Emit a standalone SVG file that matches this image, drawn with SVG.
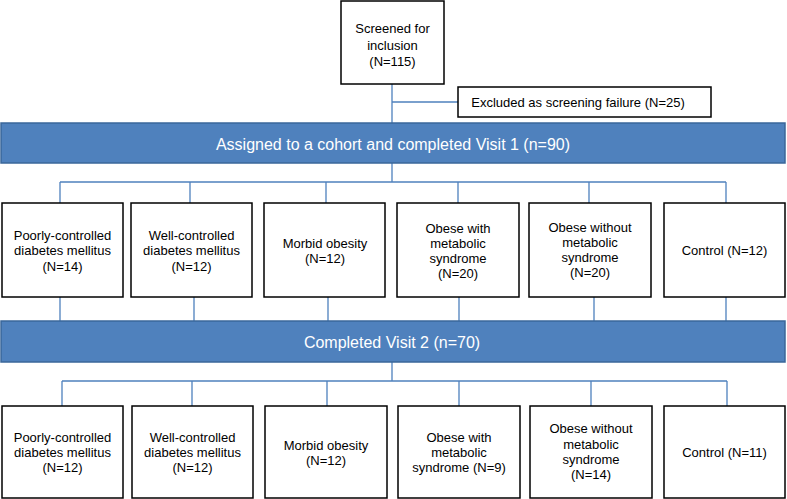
<svg xmlns="http://www.w3.org/2000/svg" width="787" height="499" viewBox="0 0 787 499">
<style>
.box{fill:#fff;stroke:#000;stroke-width:1.5}
.bar{fill:#4F81BD;stroke:#3A679A;stroke-width:1.5}
.t{font-family:"Liberation Sans",Arial,sans-serif;font-size:13px;fill:#000;text-anchor:middle}
.bt{font-family:"Liberation Sans",Arial,sans-serif;font-size:16px;fill:#fff;text-anchor:middle}
.c{fill:none;stroke:#4F81BD;stroke-width:1.3}
</style>
<rect x="0" y="0" width="787" height="499" fill="#fff"/>
<g id="connectors">
<path class="c" d="M392 84V123 M392 102H458"/>
<path class="c" d="M392 163V182 M60 182H726 M60 182V203 M190 182V203 M326 182V203 M458 182V203 M589 182V203 M726 182V203"/>
<path class="c" d="M60 297V321 M194 297V321 M328 297V321 M459 297V321 M594 297V321 M726 297V321"/>
<path class="c" d="M392 362V381 M62 381H727 M62 381V406 M192 381V406 M327 381V406 M459 381V406 M591 381V406 M727 381V406"/>
</g>
<g id="screened">
<rect class="box" x="341" y="1" width="103" height="83"/>
<text class="t" x="392.5" y="33">Screened for</text>
<text class="t" x="392.5" y="49.5">inclusion</text>
<text class="t" x="392.5" y="66">(N=115)</text>
</g>
<g id="excluded">
<rect class="box" x="458" y="87" width="253" height="30"/>
<text class="t" x="578" y="106.5">Excluded as screening failure (N=25)</text>
</g>
<g id="visit1">
<rect class="bar" x="1" y="123" width="784" height="40"/>
<text class="bt" x="393" y="149.5">Assigned to a cohort and completed Visit 1 (n=90)</text>
</g>
<g id="v1-poor">
<rect class="box" x="2" y="203" width="121" height="94"/>
<text class="t" x="62.5" y="239.5">Poorly-controlled</text>
<text class="t" x="62.5" y="255">diabetes mellitus</text>
<text class="t" x="62.5" y="270.5">(N=14)</text>
</g>
<g id="v1-well">
<rect class="box" x="131" y="203" width="121" height="94"/>
<text class="t" x="191.5" y="239.5">Well-controlled</text>
<text class="t" x="191.5" y="255">diabetes mellitus</text>
<text class="t" x="191.5" y="270.5">(N=12)</text>
</g>
<g id="v1-morbid">
<rect class="box" x="264" y="203" width="121" height="94"/>
<text class="t" x="325" y="247.5">Morbid obesity</text>
<text class="t" x="325" y="263">(N=12)</text>
</g>
<g id="v1-obese-with">
<rect class="box" x="397" y="203" width="122" height="94"/>
<text class="t" x="458" y="232.5">Obese with</text>
<text class="t" x="458" y="247.5">metabolic</text>
<text class="t" x="458" y="262.5">syndrome</text>
<text class="t" x="458" y="277.5">(N=20)</text>
</g>
<g id="v1-obese-without">
<rect class="box" x="529" y="203" width="122" height="94"/>
<text class="t" x="590" y="231.5">Obese without</text>
<text class="t" x="590" y="246.5">metabolic</text>
<text class="t" x="590" y="261.5">syndrome</text>
<text class="t" x="590" y="277">(N=20)</text>
</g>
<g id="v1-control">
<rect class="box" x="664" y="203" width="121" height="94"/>
<text class="t" x="724.5" y="254.5">Control (N=12)</text>
</g>
<g id="visit2">
<rect class="bar" x="1" y="321" width="784" height="41"/>
<text class="bt" x="392" y="347.5">Completed Visit 2 (n=70)</text>
</g>
<g id="v2-poor">
<rect class="box" x="2" y="406" width="121" height="92"/>
<text class="t" x="62.5" y="441.5">Poorly-controlled</text>
<text class="t" x="62.5" y="456.5">diabetes mellitus</text>
<text class="t" x="62.5" y="471.5">(N=12)</text>
</g>
<g id="v2-well">
<rect class="box" x="132" y="406" width="121" height="92"/>
<text class="t" x="192.5" y="441.5">Well-controlled</text>
<text class="t" x="192.5" y="456.5">diabetes mellitus</text>
<text class="t" x="192.5" y="471.5">(N=12)</text>
</g>
<g id="v2-morbid">
<rect class="box" x="265" y="406" width="122" height="92"/>
<text class="t" x="326" y="449.5">Morbid obesity</text>
<text class="t" x="326" y="464.5">(N=12)</text>
</g>
<g id="v2-obese-with">
<rect class="box" x="398" y="406" width="122" height="92"/>
<text class="t" x="459" y="441.5">Obese with</text>
<text class="t" x="459" y="456.5">metabolic</text>
<text class="t" x="459" y="471.5">syndrome (N=9)</text>
</g>
<g id="v2-obese-without">
<rect class="box" x="530" y="406" width="122" height="92"/>
<text class="t" x="591" y="432.5">Obese without</text>
<text class="t" x="591" y="448.5">metabolic</text>
<text class="t" x="591" y="463.5">syndrome</text>
<text class="t" x="591" y="478.5">(N=14)</text>
</g>
<g id="v2-control">
<rect class="box" x="664" y="406" width="121" height="92"/>
<text class="t" x="724.5" y="456.5">Control (N=11)</text>
</g>
</svg>
